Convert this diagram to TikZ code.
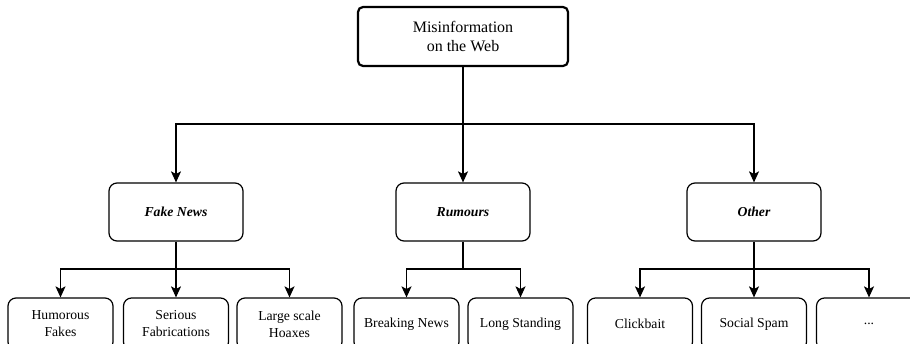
\documentclass[tikz,border=0pt]{standalone}
\usepackage{fontspec}
\setmainfont{Liberation Serif}
\usetikzlibrary{arrows.meta}
\tikzset{
  box/.style={draw, line width=1.2pt, rounded corners=8pt, align=center, inner sep=0pt,
    font=\fontsize{13.7}{17}\selectfont},
  rootbox/.style={box, line width=2.2pt, rounded corners=5pt, minimum width=210pt, minimum height=59pt,
    font=\fontsize{16}{19}\selectfont},
  midbox/.style={box, minimum width=134pt, minimum height=58pt, font=\fontsize{13.7}{17}\selectfont\bfseries\itshape},
  leafbox/.style={box, minimum width=105pt, minimum height=52pt},
  wire/.style={line width=1.1pt},
  arr/.style={wire, -{Stealth[length=11pt,width=10pt,inset=2.5pt]}}
}
\begin{document}
\begin{tikzpicture}[x=1pt,y=-1pt]
\useasboundingbox (0,0) rectangle (910,343);
\clip (0,0) rectangle (910,343);
\node[rootbox] (root) at (463,36.5) {Misinformation\\on the Web};
\node[midbox] (fake) at (176,212) {Fake News};
\node[midbox] (rum) at (463,212) {Rumours};
\node[midbox] (oth) at (754,212) {Other};
\node[leafbox] (hum) at (60.5,324) {Humorous\\Fakes};
\node[leafbox] (ser) at (176,324) {Serious\\Fabrications};
\node[leafbox] (lar) at (289.5,324) {Large scale\\Hoaxes};
\node[leafbox] (bre) at (406.5,324) {Breaking News};
\node[leafbox] (lon) at (520.5,324) {Long Standing};
\node[leafbox] (cli) at (640,324) {Clickbait};
\node[leafbox] (soc) at (754,324) {Social Spam};
\node[leafbox] (dot) at (869,324) {...};
\coordinate (bus1) at (0,124);
\coordinate (bus2) at (0,269);
\draw[wire] (root.south) -- (root.south |- bus1);
\draw[arr] (root.south |- bus1) -| (fake.north);
\draw[arr] (root.south |- bus1) -| (oth.north);
\draw[arr] (root.south |- bus1) -- (rum.north);
\draw[wire] (fake.south) -- (fake.south |- bus2);
\draw[arr] (fake.south |- bus2) -| (hum.north);
\draw[arr] (fake.south |- bus2) -| (lar.north);
\draw[arr] (fake.south |- bus2) -- (ser.north);
\draw[wire] (rum.south) -- (rum.south |- bus2);
\draw[arr] (rum.south |- bus2) -| (bre.north);
\draw[arr] (rum.south |- bus2) -| (lon.north);
\draw[wire] (oth.south) -- (oth.south |- bus2);
\draw[arr] (oth.south |- bus2) -| (cli.north);
\draw[arr] (oth.south |- bus2) -| (dot.north);
\draw[arr] (oth.south |- bus2) -- (soc.north);
\end{tikzpicture}
\end{document}
